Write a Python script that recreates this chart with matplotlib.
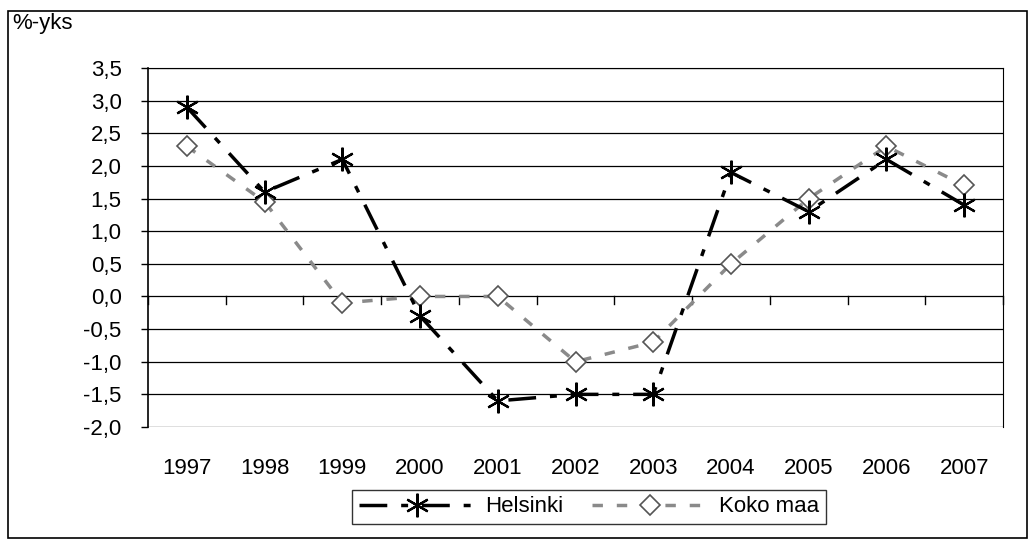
import numpy as np
import matplotlib.pyplot as plt
from matplotlib.patches import Rectangle

plt.rcParams['font.family'] = ['Liberation Sans', 'DejaVu Sans']

# datos
vuodet = ['1997', '1998', '1999', '2000', '2001', '2002', '2003', '2004', '2005', '2006', '2007']
helsinki = [2.9, 1.6, 2.1, -0.3, -1.6, -1.5, -1.5, 1.9, 1.3, 2.1, 1.4]
koko_maa = [2.3, 1.45, -0.1, 0.0, 0.0, -1.0, -0.7, 0.5, 1.5, 2.3, 1.7]
yticks = np.arange(-2.0, 3.51, 0.5)

fig = plt.figure(figsize=(10.31, 5.4), dpi=100)
# outer frame
fig.patches.append(Rectangle((0.008, 0.004), 0.988, 0.976, transform=fig.transFigure,
                             fill=False, edgecolor='black', linewidth=1.2))
ax = fig.add_axes([148/1031, 1-427/540, 855/1031, 359/540])

x = np.arange(len(vuodet))
ax.plot(x, koko_maa, color='#8a8a8a', linewidth=2.5, dashes=(3, 4),
        marker='D', markersize=10, markerfacecolor='white', markeredgecolor='#555555',
        markeredgewidth=1.2, label='Koko maa', zorder=3)
ax.plot(x, helsinki, color='black', linewidth=2.5, dashes=(8, 4, 2, 4),
        marker=(6, 2, 0), markersize=17, markeredgewidth=1.6, label='Helsinki', zorder=4)

ax.set_xlim(-0.5, len(vuodet) - 0.5)
ax.set_ylim(-2.0, 3.5)
ax.set_yticks(yticks)
ax.set_yticklabels([f'{v:.1f}'.replace('.', ',') for v in yticks], fontsize=16)
for v in yticks:
    ax.axhline(v, color='black', linewidth=0.9, zorder=1)

ax.set_xticks(x)
ax.set_xticklabels(vuodet, fontsize=16)
ax.tick_params(axis='x', length=0, pad=22)
ax.tick_params(axis='y', length=5, width=1, pad=14)
# category ticks on the zero line
for b in np.arange(-0.5, len(vuodet) - 0.4, 1.0):
    ax.plot([b, b], [0, -0.12], color='black', linewidth=1, zorder=2, clip_on=False)

for s in ['top', 'right', 'bottom']:
    ax.spines[s].set_visible(False)
ax.spines['left'].set_linewidth(1.2)
ax.spines['right'].set_visible(True)
ax.spines['right'].set_linewidth(0.8)
ax.spines['top'].set_visible(True)
ax.spines['top'].set_linewidth(0.8)

fig.text(12/1031, 1-24/540, '%-yks', fontsize=16, va='center', ha='left')

h, l = ax.get_legend_handles_labels()
leg = fig.legend(h[::-1], l[::-1], loc='center', bbox_to_anchor=(589/1031, 1-507/540),
                 ncol=2, fontsize=16, frameon=True, fancybox=False, edgecolor='black',
                 handlelength=5.2, columnspacing=1.3, handletextpad=0.5, borderpad=0.3)
leg.get_frame().set_linewidth(1.0)

plt.savefig('out.png', dpi=100)
